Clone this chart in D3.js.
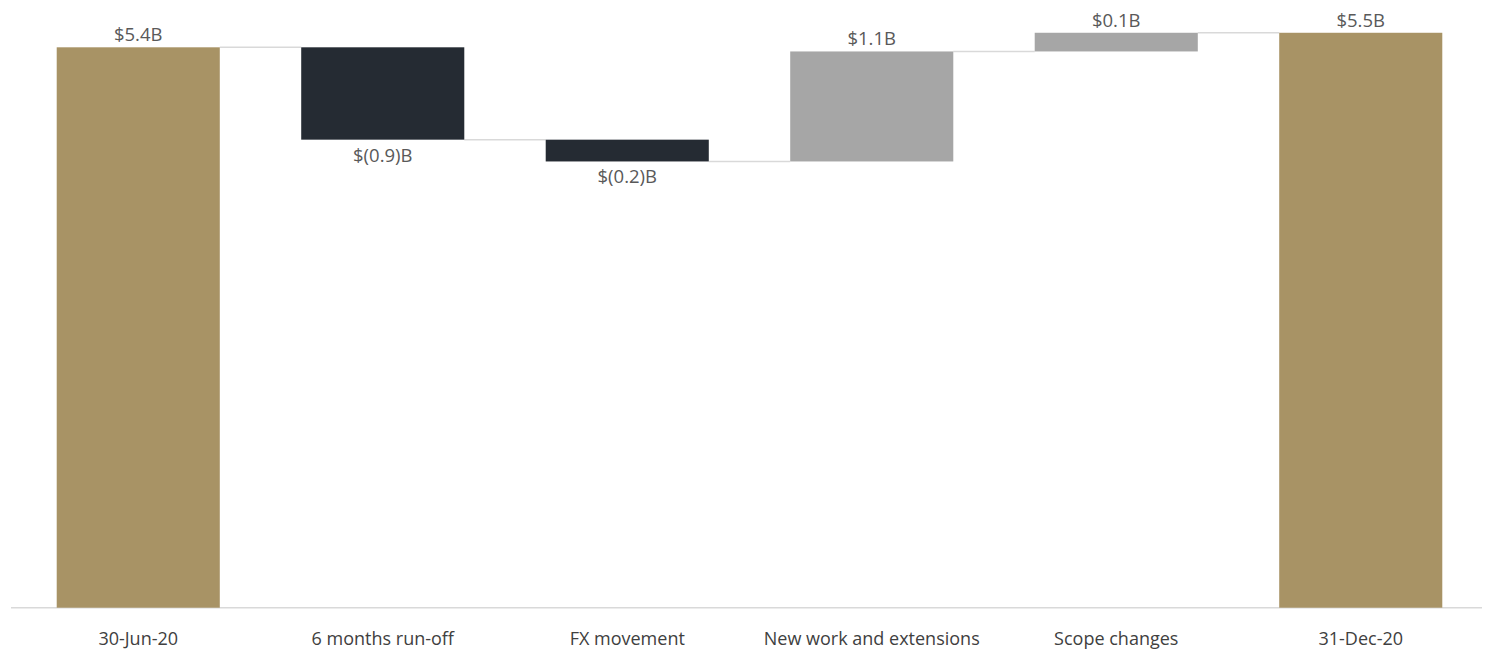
<!DOCTYPE html>
<html>
<head>
<meta charset="utf-8">
<script src="https://cdn.jsdelivr.net/npm/d3@7"></script>
<style>
  body { margin: 0; background: #fff; }
  svg { display: block; }
</style>
</head>
<body>
<svg id="chart"></svg>
<script>
// waterfall data, billions
var categories = ["30-Jun-20", "6 months run-off", "FX movement", "New work and extensions", "Scope changes", "31-Dec-20"];
var kinds = ["total", "delta", "delta", "delta", "delta", "total"];
var values = [5.40, -0.89, -0.21, 1.06, 0.18, 5.54];
var labels = ["$5.4B", "$(0.9)B", "$(0.2)B", "$1.1B", "$0.1B", "$5.5B"];

var W = 1493, H = 649;
var svg = d3.select("#chart").attr("width", W).attr("height", H);

var x = d3.scaleBand().domain(categories).range([16, 1483]).paddingInner(0.333).paddingOuter(0.1665);
var y = d3.scaleLinear().domain([0, 5.4]).range([607.7, 47.3]);

// running levels
var bars = [];
var level = 0;
for (var i = 0; i < categories.length; i++) {
    var start, end;
    if (kinds[i] == "total") {
        start = 0; end = values[i]; level = values[i];
    } else {
        start = level; end = level + values[i]; level = end;
    }
    bars.push({cat: categories[i], kind: kinds[i], v: values[i], start: start, end: end, label: labels[i]});
}

function fillOf(d) {
    if (d.kind == "total") return "#A89365";
    return d.v < 0 ? "#252B33" : "#A6A6A6";
}

// connectors
var conn = svg.append("g");
for (var j = 0; j < bars.length - 1; j++) {
    conn.append("line")
        .attr("x1", x(bars[j].cat) + x.bandwidth())
        .attr("x2", x(bars[j + 1].cat))
        .attr("y1", y(bars[j].end)).attr("y2", y(bars[j].end))
        .style("stroke", "#D9D9D9")
        .style("stroke-width", "1.5px");
}

// axis line
svg.append("line")
    .attr("x1", 11).attr("x2", 1482)
    .attr("y1", y(0)).attr("y2", y(0))
    .style("stroke", "#D9D9D9")
    .style("stroke-width", "1.5px");

svg.append("g").selectAll("rect")
    .data(bars)
    .enter()
    .append("rect")
    .attr("x", function(d){ return x(d.cat); })
    .attr("width", x.bandwidth())
    .attr("y", function(d){ return y(Math.max(d.start, d.end)); })
    .attr("height", function(d){ return Math.abs(y(d.start) - y(d.end)); })
    .style("fill", fillOf);

// value labels
svg.append("g").selectAll("text")
    .data(bars)
    .enter()
    .append("text")
    .attr("x", function(d){ return x(d.cat) + x.bandwidth() / 2; })
    .attr("y", function(d){
        return d.v < 0 ? y(d.end) + 22 : y(Math.max(d.start, d.end)) - 6;
    })
    .attr("text-anchor", "middle")
    .style("font-family", "'Open Sans', sans-serif")
    .style("font-size", "18.5px")
    .style("fill", "#595959")
    .text(function(d){ return d.label; });

// category labels
svg.append("g").selectAll("text")
    .data(categories)
    .enter()
    .append("text")
    .attr("x", function(d){ return x(d) + x.bandwidth() / 2; })
    .attr("y", 645)
    .attr("text-anchor", "middle")
    .style("font-family", "'Open Sans', sans-serif")
    .style("font-size", "18px")
    .style("fill", "#404040")
    .text(function(d){ return d; });
</script>
</body>
</html>
